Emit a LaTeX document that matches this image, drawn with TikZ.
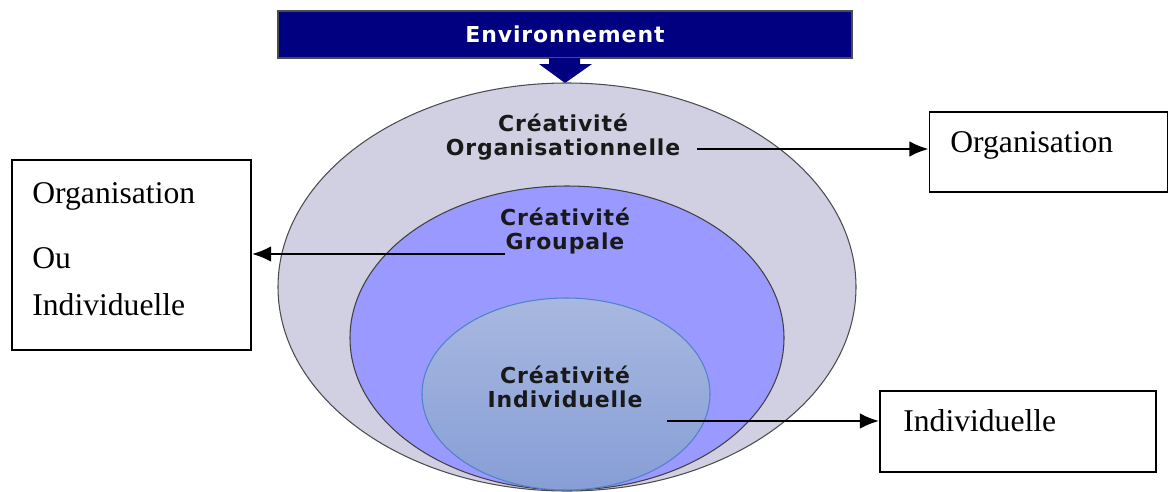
\documentclass[tikz,border=0pt]{standalone}
\usepackage{fontspec}
\setmainfont{Liberation Serif}
\newfontfamily\circfont{DejaVu Sans}[LetterSpace=4]
\usetikzlibrary{arrows.meta}

\definecolor{envblue}{RGB}{0,0,128}
\definecolor{outerfill}{RGB}{208,208,226}
\definecolor{midfill}{RGB}{153,153,255}
\definecolor{innertop}{RGB}{168,184,224}
\definecolor{innerbot}{RGB}{135,158,214}
\definecolor{innerline}{RGB}{80,130,200}

\begin{document}
\begin{tikzpicture}[x=.2mm, y=.2mm,
	box/.style={draw, line width=1pt, rectangle, inner sep=0pt},
	boxtext/.style={font=\fontsize{18}{22}\selectfont, inner sep=0pt, anchor=base west},
	circtext/.style={font=\circfont\bfseries\fontsize{12.5}{13.5}\selectfont, align=center, text=black!90, inner sep=0pt},
	link/.style={line width=1.4pt, -{Latex[length=11pt,width=9pt]}}]

	\useasboundingbox (0,0) rectangle (1169,-491);

	% environnement
	\node[fill=envblue, draw=black!70, line width=.8pt, minimum width=11.48cm, minimum height=.94cm,
		text=white, font=\circfont\bfseries\fontsize{12.5}{13}\selectfont] (env) at (565,-34.5) {Environnement};
	\fill[envblue] (549,-58) -- (549,-64) -- (539,-64) -- (565,-83) -- (592,-64) -- (580,-64) -- (580,-58) -- cycle;

	% ellipses
	\draw[fill=outerfill, draw=black!70, line width=.6pt] (567,-287) ellipse (57.8mm and 40.8mm);
	\draw[fill=midfill, draw=black!75, line width=.6pt] (567,-338) ellipse (43.4mm and 30.4mm);
	\shadedraw[top color=innertop, bottom color=innerbot, draw=innerline, line width=.6pt] (566,-394) ellipse (28.8mm and 19.2mm);

	\node[circtext] (orglbl) at (563,-137) {Créativité\\Organisationnelle};
	\node[circtext] (grplbl) at (565,-231) {Créativité\\Groupale};
	\node[circtext] (indlbl) at (565,-387) {Créativité\\Individuelle};

	% boxes
	\node[box, minimum width=4.76cm, minimum height=1.6cm] (orgbox) at (1048.5,-152) {};
	\node[box, minimum width=4.78cm, minimum height=3.8cm] (mixbox) at (131.5,-255) {};
	\node[box, minimum width=5.52cm, minimum height=1.62cm] (indbox) at (1018,-431.5) {};

	\node[boxtext] (orgtxt) at (950,-152) {Organisation};
	\node[boxtext] (mixtxta) at (32,-203) {Organisation};
	\node[boxtext] (mixtxtb) at (32,-268) {Ou};
	\node[boxtext] (mixtxtc) at (32,-315) {Individuelle};
	\node[boxtext] (indtxt) at (903,-431) {Individuelle};

	% arrows
	\coordinate (orgfrom) at (697,-149);
	\coordinate (grpfrom) at (505,-254);
	\coordinate (indfrom) at (667,-421);
	\draw[link] (orgfrom) -- (orgfrom -| orgbox.west);
	\draw[link] (grpfrom) -- (grpfrom -| mixbox.east);
	\draw[link] (indfrom) -- (indfrom -| indbox.west);

\end{tikzpicture}
\end{document}
